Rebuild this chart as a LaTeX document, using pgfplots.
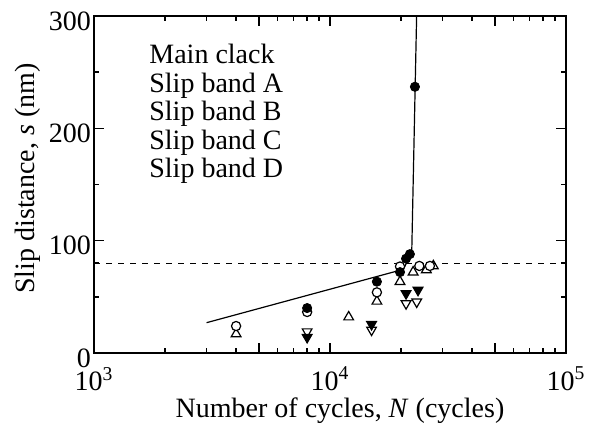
\documentclass[border=0pt]{standalone}
\usepackage{fontspec}
\setmainfont{Liberation Serif}
\usepackage{pgfplots}
\pgfplotsset{compat=1.18}
\begin{document}
\begin{tikzpicture}[font=\fontsize{14}{16}\selectfont]
\useasboundingbox (-47pt,-37.5pt) rectangle (249.5pt,176.5pt);
\begin{axis}[at={(0,0)},anchor=south west,scale only axis,width=236pt,height=168.5pt,
  xmode=log,xmin=1000,xmax=100000,ymin=0,ymax=300,
  xtick={1000,10000,100000},xticklabels={10\textsuperscript{3},10\textsuperscript{4},10\textsuperscript{5}},
  extra x ticks={5000,50000},extra x tick labels={},
  extra x tick style={major tick length=5pt},
  ytick={0,100,200,300},minor ytick={50,80,150,250},
  /pgf/number format/assume math mode=true,
  major tick length=5pt,minor tick length=2.5pt,
  axis line style={line width=1pt},
  every tick/.style={black,line width=0.8pt},
  xticklabel style={yshift=-3.5pt},
  yticklabel style={xshift=2pt,yshift=-2.5pt},
  xlabel={Number of cycles, \textit{N} (cycles)},
  ylabel={Slip distance, \textit{s} (nm)},
  every axis x label/.style={at={(axis description cs:0.5,0)},anchor=center,yshift=-29pt,xshift=5pt},
  every axis y label/.style={at={(axis description cs:0,0.5)},anchor=center,xshift=-33pt,yshift=3pt,rotate=90},
  clip=true]
  % main crack fit line
  \addplot[black,line width=0.6pt] coordinates {(3000,27)(20470,74.5)(22200,90)(23280,300)(23350,320)};
  \addplot[black,dashed,line width=0.6pt] coordinates {(1000,80)(100000,80)};
  % Slip band D
  \addplot[only marks,mark=triangle,mark size=2.8pt,mark options={rotate=180,fill=white,line width=0.6pt}]
    coordinates {(8000,19)(15000,20.5)(21000,44)(23300,45.5)};
  % Slip band C
  \addplot[only marks,mark=triangle*,mark size=2.8pt,mark options={rotate=180,fill=black,line width=0.6pt}]
    coordinates {(8000,14)(15000,25.5)(21000,53)(23600,56)};
  % Slip band B
  \addplot[only marks,mark=triangle,mark size=2.8pt,mark options={fill=white,line width=0.6pt}]
    coordinates {(4000,17)(12000,32)(15800,46)(19800,63.5)(22500,72)(25600,74)(27400,77.5)};
  % Slip band A
  \addplot[only marks,mark=*,mark size=2.3pt,mark options={fill=white,line width=0.6pt}]
    coordinates {(4000,24)(8000,36.5)(15800,54)(19800,77)(23900,77.5)(26500,77.5)};
  % Main crack
  \addplot[only marks,mark=*,mark size=2.3pt,mark options={fill=black}]
    coordinates {(8000,40)(15800,63.5)(19800,72)(21000,84)(21800,88)(22900,237)};
  \node[anchor=north west,align=left,inner sep=0pt,font=\fontsize{14}{14.3}\selectfont]
    at (axis description cs:0.1165,0.918)
    {Main clack\\Slip band A\\Slip band B\\Slip band C\\Slip band D};
\end{axis}
\end{tikzpicture}
\end{document}
